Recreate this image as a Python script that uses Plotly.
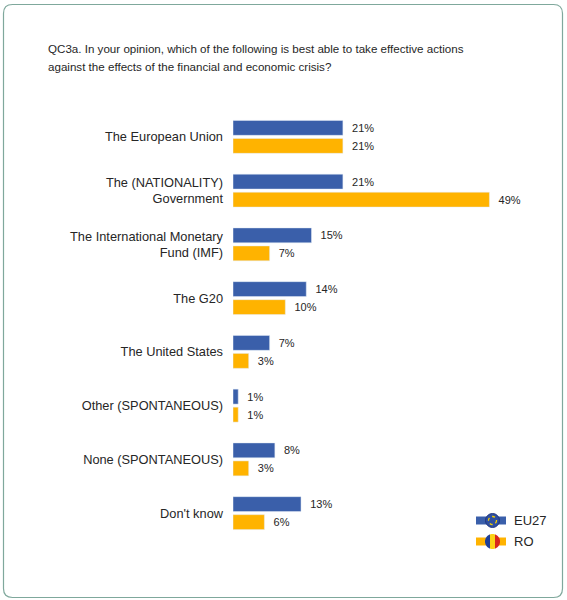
import math
import plotly.graph_objects as go

categories = [
    "The European Union",
    "The (NATIONALITY)<br>Government",
    "The International Monetary<br>Fund (IMF)",
    "The G20",
    "The United States",
    "Other (SPONTANEOUS)",
    "None (SPONTANEOUS)",
    "Don't know",
]
eu27 = [21, 21, 15, 14, 7, 1, 8, 13]
ro = [21, 49, 7, 10, 3, 1, 3, 6]
title_lines = [
    "QC3a. In your opinion, which of the following is best able to take effective actions",
    "against the effects of the financial and economic crisis?",
]

BLUE = "#3A5FAA"
ORANGE = "#FFB300"
TEXT = "#262626"
FONT = "Liberation Sans, Arial, sans-serif"

W, H = 567, 600
L, R, T, B = 233, 20, 110, 60
PW, PH = W - L - R, H - T - B


def px(x, y):
    # pixel position -> paper coordinates
    return (x - L) / PW, (H - B - y) / PH


def rounded_rect(x0, y0, x1, y1, r):
    def p(x, y):
        a, b = px(x, y)
        return f"{a:.5f},{b:.5f}"
    return (f"M {p(x0 + r, y0)} L {p(x1 - r, y0)} Q {p(x1, y0)} {p(x1, y0 + r)} "
            f"L {p(x1, y1 - r)} Q {p(x1, y1)} {p(x1 - r, y1)} "
            f"L {p(x0 + r, y1)} Q {p(x0, y1)} {p(x0, y1 - r)} "
            f"L {p(x0, y0 + r)} Q {p(x0, y0)} {p(x0 + r, y0)} Z")


def circle_segment(cx, cy, r, xa, xb, n=20):
    # part of a circle between two vertical lines
    pts = []
    ta = math.acos(max(-1, min(1, (xa - cx) / r)))
    tb = math.acos(max(-1, min(1, (xb - cx) / r)))
    for i in range(n + 1):
        t = ta + (tb - ta) * i / n
        pts.append((cx + r * math.cos(t), cy - r * math.sin(t)))
    for i in range(n + 1):
        t = tb + (ta - tb) * i / n
        pts.append((cx + r * math.cos(t), cy + r * math.sin(t)))
    s = " L ".join("{:.5f},{:.5f}".format(*px(x, y)) for x, y in pts)
    return "M " + s + " Z"


def labels(vals):
    return ["\u00a0\u00a0" + f"{v}%" for v in vals]


fig = go.Figure()
fig.add_trace(go.Bar(
    y=categories, x=eu27, name="EU27", orientation="h",
    marker_color=BLUE, text=labels(eu27),
    textposition="outside", cliponaxis=False,
    textfont=dict(size=11, color=TEXT, family=FONT),
))
fig.add_trace(go.Bar(
    y=categories, x=ro, name="RO", orientation="h",
    marker_color=ORANGE, text=labels(ro),
    textposition="outside", cliponaxis=False,
    textfont=dict(size=11, color=TEXT, family=FONT),
))

shapes = [dict(type="path", xref="paper", yref="paper",
               path=rounded_rect(3.5, 4.5, 562.5, 597.5, 9),
               line=dict(color="#7FA89C", width=1.2), layer="below")]

# legend flags
for (cy, rect_col) in [(520.5, BLUE), (541.5, ORANGE)]:
    x0, y0 = px(476, cy - 4)
    x1, y1 = px(506, cy + 4)
    shapes.append(dict(type="rect", xref="paper", yref="paper",
                       x0=x0, y0=y0, x1=x1, y1=y1,
                       fillcolor=rect_col, line=dict(width=0)))

cx0, cy0 = px(485.5, 513.5)
cx1, cy1 = px(499.5, 527.5)
shapes.append(dict(type="circle", xref="paper", yref="paper",
                   x0=cx0, y0=cy0, x1=cx1, y1=cy1,
                   fillcolor="#2F4FA0", line=dict(color="#1E3580", width=1)))
sx0, sy0 = px(488.5, 516.5)
sx1, sy1 = px(496.5, 524.5)
shapes.append(dict(type="circle", xref="paper", yref="paper",
                   x0=sx0, y0=sy0, x1=sx1, y1=sy1,
                   line=dict(color="#F5D000", width=1.3, dash="dot")))

rcx, rcy, rr = 492.5, 541.5, 7.5
for xa, xb, col in [(rcx - rr, rcx - rr / 3, "#1D3F9A"),
                    (rcx - rr / 3, rcx + rr / 3, "#FCD116"),
                    (rcx + rr / 3, rcx + rr, "#D8261E")]:
    shapes.append(dict(type="path", xref="paper", yref="paper",
                       path=circle_segment(rcx, rcy, rr, xa, xb),
                       fillcolor=col, line=dict(width=0)))

annotations = []
for lab, cy in [("EU27", 520.5), ("RO", 541.5)]:
    ax, ay = px(512, cy)
    annotations.append(dict(x=ax, y=ay, xref="paper", yref="paper",
                            text=lab, showarrow=False, xanchor="left",
                            yanchor="middle",
                            font=dict(size=13, color=TEXT, family=FONT)))

# question text, one annotation per line to match the looser line spacing
for line, cy in zip(title_lines, [48, 67]):
    ax, ay = px(46, cy)
    annotations.append(dict(x=ax, y=ay, xref="paper", yref="paper",
                            text=line, showarrow=False, xanchor="left",
                            yanchor="middle",
                            font=dict(size=11.6, color=TEXT, family=FONT)))

fig.update_layout(
    width=W, height=H,
    margin=dict(l=L, r=R, t=T, b=B),
    paper_bgcolor="white", plot_bgcolor="white",
    barmode="group", bargap=0.33, bargroupgap=0.17,
    showlegend=False,
    font=dict(family=FONT, color=TEXT),
    shapes=shapes,
    annotations=annotations,
)
fig.update_xaxes(range=[0, 60], visible=False)
fig.update_yaxes(autorange="reversed", showgrid=False, zeroline=False,
                 showline=False, ticks="", ticklabelstandoff=9,
                 tickfont=dict(size=12.8, color=TEXT, family=FONT))

# drop the default page margin so the figure fills the window
fig.write_html("out.html", config={"displayModeBar": False},
               post_script="document.body.style.margin='0';")
